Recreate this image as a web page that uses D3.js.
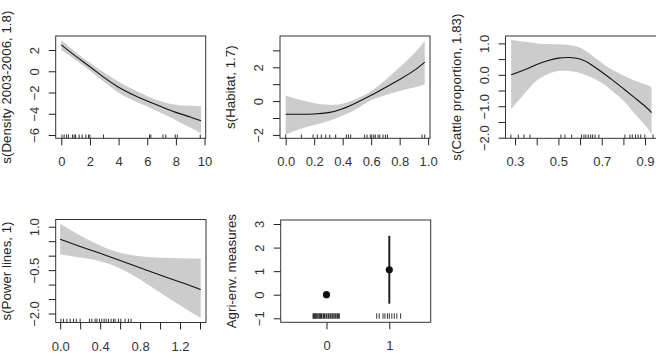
<!DOCTYPE html>
<html>
<head>
<meta charset="utf-8">
<script src="https://cdn.jsdelivr.net/npm/d3@7"></script>
<style>
  body { margin: 0; background: #fff; }
  svg { display: block; font-family: "Liberation Sans", Arial, sans-serif; }
</style>
</head>
<body>
<svg></svg>
<script>
// Panel 1: s(Density 2003-2006, 1.8)
const densX = [0, 1, 2, 3, 4, 5, 6, 7, 8, 9, 9.75];
const densFit = [2.48, 1.42, 0.43, -0.6, -1.5, -2.2, -2.8, -3.35, -3.87, -4.3, -4.66];
const densUpper = [2.95, 1.8, 0.8, -0.15, -0.98, -1.7, -2.35, -2.85, -3.15, -3.25, -3.27];
const densLower = [2.0, 1.05, 0.06, -1.02, -2.02, -2.72, -3.32, -3.95, -4.6, -5.3, -5.85];
const densRug = [0.05, 0.2, 0.37, 0.5, 0.78, 0.9, 0.99, 1.25, 1.46, 1.72, 1.9, 2.0, 2.95, 6.16, 6.25, 7.1, 7.3, 7.96, 8.1, 9.7];

// Panel 2: s(Habitat, 1.7)
const habX = [0, 0.1, 0.2, 0.3, 0.4, 0.5, 0.6, 0.7, 0.8, 0.9, 0.976];
const habFit = [-0.78, -0.78, -0.76, -0.68, -0.45, -0.08, 0.34, 0.8, 1.28, 1.8, 2.31];
const habUpper = [0.32, 0.08, -0.12, -0.22, -0.15, 0.15, 0.6, 1.25, 2.0, 2.8, 3.57];
const habLower = [-1.98, -1.65, -1.42, -1.18, -0.85, -0.45, 0.05, 0.35, 0.6, 0.8, 0.98];
const habRug = [0.0, 0.11, 0.192, 0.222, 0.25, 0.281, 0.309, 0.351, 0.426, 0.44, 0.456, 0.554, 0.571, 0.594, 0.604, 0.618, 0.629, 0.648, 0.66, 0.683, 0.7, 0.714, 0.957, 0.976];

// Panel 3: s(Cattle proportion, 1.83)
const catX = [0.282, 0.35, 0.4, 0.45, 0.5, 0.55, 0.6, 0.65, 0.7, 0.75, 0.8, 0.85, 0.9, 0.93];
const catFit = [0.0, 0.18, 0.33, 0.45, 0.53, 0.55, 0.5, 0.33, 0.09, -0.17, -0.44, -0.72, -1.0, -1.2];
const catUpper = [1.11, 1.05, 1.0, 0.98, 0.97, 0.95, 0.86, 0.65, 0.38, 0.15, -0.02, -0.18, -0.3, -0.39];
const catLower = [-1.09, -0.55, -0.18, 0.02, 0.12, 0.12, 0.06, -0.08, -0.26, -0.52, -0.82, -1.22, -1.6, -1.89];
const catRug = [0.281, 0.315, 0.341, 0.369, 0.512, 0.53, 0.561, 0.607, 0.618, 0.627, 0.638, 0.649, 0.658, 0.669, 0.687, 0.807, 0.83, 0.841, 0.856, 0.868, 0.88, 0.899, 0.937];

// Panel 4: s(Power lines, 1)
const powX = [0, 0.2, 0.4, 0.6, 0.8, 1.0, 1.2, 1.407];
const powFit = [0.57, 0.32, 0.08, -0.17, -0.42, -0.67, -0.91, -1.17];
const powUpper = [1.1, 0.7, 0.35, 0.1, -0.02, -0.07, -0.09, -0.1];
const powLower = [0.04, -0.06, -0.19, -0.44, -0.82, -1.27, -1.71, -2.16];
const powRug = [0.007, 0.033, 0.067, 0.1, 0.133, 0.16, 0.2, 0.293, 0.317, 0.35, 0.367, 0.393, 0.417, 0.44, 0.46, 0.483, 0.51, 0.533, 0.55, 0.583, 0.607, 0.65, 0.683, 0.71];

// Panel 5: Agri-env. measures (factor)
const agriLevels = [0, 1];
const agriFit = [0, 1.06];
const agriUpper = [null, 2.5];
const agriLower = [null, -0.38];
const agriRug = [-0.21, -0.19, -0.17, -0.15, -0.12, -0.1, -0.08, -0.05, -0.03, 0.0, 0.03, 0.06, 0.09, 0.12, 0.15, 0.18, 0.2,
                 0.8, 0.84, 0.9, 0.93, 0.97, 1.0, 1.04, 1.08, 1.12, 1.18];

const svg = d3.select("svg").attr("width", 656).attr("height", 358);

const fmt1 = d3.format(".1f");

const panels = [
  { title: "s(Density 2003-2006, 1.8)", box: [55.7, 36, 205.7, 138.3], xDom: [-0.39, 10.08], yDom: [-6.31, 3.32],
    xTicks: [0, 2, 4, 6, 8, 10], xLab: [0, 2, 4, 6, 8, 10], xFmt: d3.format("d"),
    yTicks: [-6, -4, -2, 0, 2], yLab: [-6, -4, -2, 0, 2], yFmt: d3.format("d"),
    x: densX, fit: densFit, up: densUpper, lo: densLower, rug: densRug },
  { title: "s(Habitat, 1.7)", box: [280, 36, 430, 138.3], xDom: [-0.04, 1.013], yDom: [-2.2, 3.85],
    xTicks: [0, 0.2, 0.4, 0.6, 0.8, 1.0], xLab: [0, 0.2, 0.4, 0.6, 0.8, 1.0], xFmt: fmt1,
    yTicks: [-2, -1, 0, 1, 2, 3], yLab: [-2, 0, 2], yFmt: d3.format("d"),
    x: habX, fit: habFit, up: habUpper, lo: habLower, rug: habRug },
  { title: "s(Cattle proportion, 1.83)", box: [505.5, 36, 657.2, 138.3], xDom: [0.256, 0.956], yDom: [-2.02, 1.235],
    xTicks: [0.3, 0.4, 0.5, 0.6, 0.7, 0.8, 0.9], xLab: [0.3, 0.5, 0.7, 0.9], xFmt: fmt1,
    yTicks: [-2, -1.5, -1, -0.5, 0, 0.5, 1], yLab: [-2, -1, 0, 1], yFmt: fmt1,
    x: catX, fit: catFit, up: catUpper, lo: catLower, rug: catRug },
  { title: "s(Power lines, 1)", box: [55.7, 219.5, 206, 322.5], xDom: [-0.045, 1.46], yDom: [-2.31, 1.25],
    xTicks: [0, 0.2, 0.4, 0.6, 0.8, 1.0, 1.2, 1.4], xLab: [0, 0.4, 0.8, 1.2], xFmt: fmt1,
    yTicks: [-2, -1.5, -1, -0.5, 0, 0.5, 1], yLab: [-2, -0.5, 1], yFmt: fmt1,
    x: powX, fit: powFit, up: powUpper, lo: powLower, rug: powRug },
  { title: "Agri-env. measures", box: [280.7, 220, 430.7, 322.3], xDom: [-0.729, 1.659], yDom: [-1.17, 3.17],
    xTicks: [0, 1], xLab: [0, 1], xFmt: d3.format("d"),
    yTicks: [-1, 0, 1, 2, 3], yLab: [-1, 0, 1, 2, 3], yFmt: d3.format("d"),
    factor: true }
];

const ink = "#222";

panels.forEach(p => {
  const [x0, y0, x1, y1] = p.box;
  const xs = d3.scaleLinear().domain(p.xDom).range([x0, x1]);
  const ys = d3.scaleLinear().domain(p.yDom).range([y1, y0]);
  const g = svg.append("g");

  if (!p.factor) {
    const pts = p.x.map((v, i) => ({ x: v, fit: p.fit[i], up: p.up[i], lo: p.lo[i] }));
    // confidence band
    g.append("path")
      .datum(pts)
      .attr("fill", "#cccccc")
      .attr("d", d3.area().curve(d3.curveNatural)
        .x(d => xs(d.x)).y0(d => ys(d.lo)).y1(d => ys(d.up)));
    // fitted smooth
    g.append("path")
      .datum(pts)
      .attr("fill", "none")
      .attr("stroke", "#111")
      .attr("stroke-width", 1.1)
      .attr("d", d3.line().curve(d3.curveNatural).x(d => xs(d.x)).y(d => ys(d.fit)));
    // rug
    g.selectAll("line.rug").data(p.rug).join("line")
      .attr("x1", d => xs(d)).attr("x2", d => xs(d))
      .attr("y1", y1).attr("y2", y1 - 3.8)
      .attr("stroke", "#333").attr("stroke-width", 1);
  } else {
    // rug for factor
    g.selectAll("line.rug").data(agriRug).join("line")
      .attr("x1", d => xs(d)).attr("x2", d => xs(d))
      .attr("y1", ys(-0.79)).attr("y2", ys(-1.02))
      .attr("stroke", "#333").attr("stroke-width", d => Math.abs(d) < 0.5 ? 1.6 : 1);
    // error bars
    agriLevels.forEach((lv, i) => {
      if (agriUpper[i] != null) {
        g.append("line")
          .attr("x1", xs(lv)).attr("x2", xs(lv))
          .attr("y1", ys(agriUpper[i])).attr("y2", ys(agriLower[i]))
          .attr("stroke", "#222").attr("stroke-width", 2);
      }
      g.append("circle")
        .attr("cx", xs(lv)).attr("cy", ys(agriFit[i])).attr("r", 3.6)
        .attr("fill", "#111");
    });
  }

  // box
  g.append("rect")
    .attr("x", x0).attr("y", y0)
    .attr("width", x1 - x0).attr("height", y1 - y0)
    .attr("fill", "none").attr("stroke", "#333").attr("stroke-width", 1);

  // x axis
  const xa = g.append("g").attr("transform", `translate(0,${y1})`)
    .call(d3.axisBottom(xs).tickValues(p.xTicks).tickSize(7)
      .tickFormat(d => p.xLab.some(v => Math.abs(v - d) < 1e-9) ? p.xFmt(d) : ""));
  xa.select(".domain").remove();
  xa.selectAll("line").attr("stroke", ink);
  xa.selectAll("text").attr("y", 28).attr("dy", 0)
    .attr("fill", "#333").style("font-size", "13px");

  // y axis
  const ya = g.append("g").attr("transform", `translate(${x0},0)`)
    .call(d3.axisLeft(ys).tickValues(p.yTicks).tickSize(7)
      .tickFormat(d => p.yLab.some(v => Math.abs(v - d) < 1e-9) ? p.yFmt(d) : ""));
  ya.select(".domain").remove();
  ya.selectAll("line").attr("stroke", ink);
  ya.selectAll("text")
    .attr("transform", "rotate(-90)")
    .attr("x", 0).attr("y", -17).attr("dy", 0)
    .attr("text-anchor", "middle")
    .attr("fill", "#333").style("font-size", "13px");

  // axis title
  svg.append("text")
    .attr("transform", `translate(${x0 - 45},${(y0 + y1) / 2}) rotate(-90)`)
    .attr("text-anchor", "middle")
    .attr("fill", "#222")
    .style("font-size", "13.3px")
    .text(p.title);
});
</script>
</body>
</html>
